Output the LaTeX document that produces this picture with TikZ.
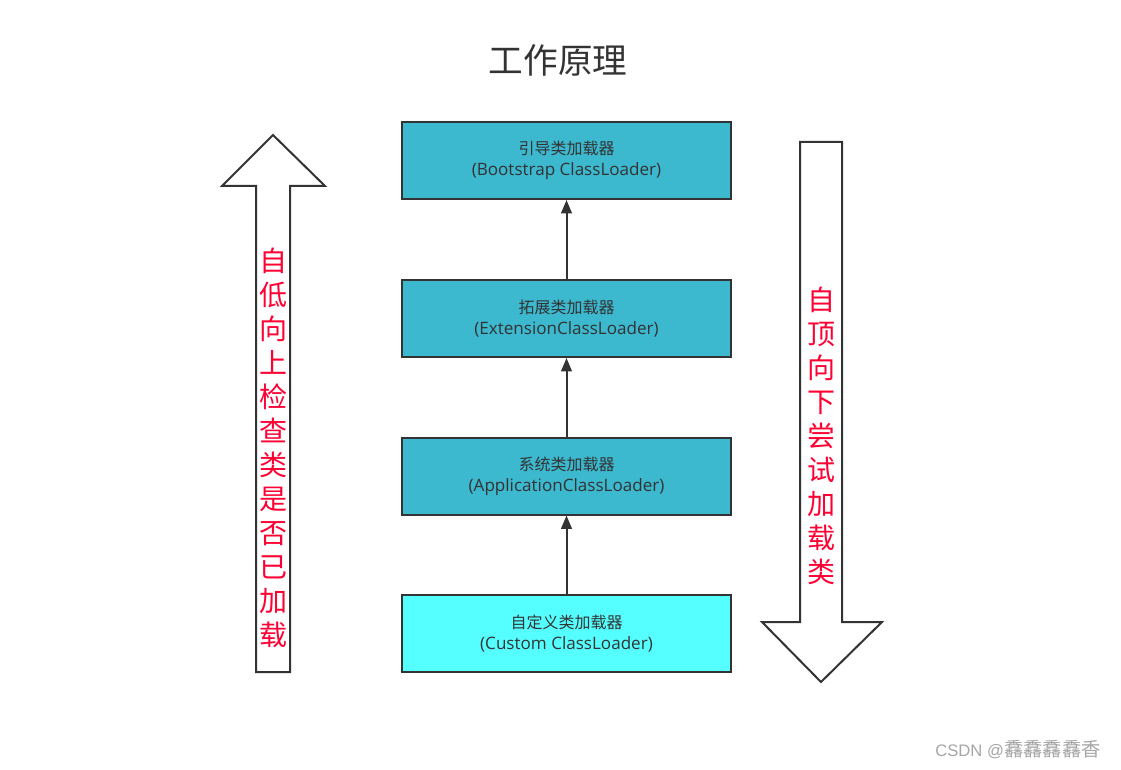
\documentclass[tikz,border=0pt]{standalone}
\usepackage{fontspec}
\setmainfont{Open Sans}
\newfontfamily\cjk{Noto Sans CJK SC}
\newfontfamily\marklatin{Liberation Sans}
\usetikzlibrary{arrows.meta}
\definecolor{loaderblue}{HTML}{3CB8CF}
\definecolor{customcyan}{HTML}{55FFFF}
\definecolor{linegray}{HTML}{333333}
\definecolor{hintred}{HTML}{FF0033}
\newcommand{\loadertext}[2]{{\cjk #1}\\{\fontsize{12.8}{15.75}\selectfont #2}}
\begin{document}
\begin{tikzpicture}[x=0.75pt,y=-0.75pt,
    loader/.style={draw=linegray,line width=1.5pt,fill=loaderblue,minimum width=246.75pt,minimum height=57.75pt,inner sep=0pt,text=linegray,font=\fontsize{12}{15.75}\selectfont,align=center},
    parent/.style={draw=linegray,line width=1.5pt,-{Triangle[length=10pt,width=8pt]}},
    bigarrow/.style={draw=linegray,line width=1.5pt,fill=white,line join=miter},
    hint/.style={text=hintred,font=\cjk\fontsize{21}{25.5}\selectfont,align=center}]
        \useasboundingbox (0,0) rectangle (1121,770);
        \node [font=\cjk\fontsize{26}{30}\selectfont,text=linegray] (title) at (558,60) {工作原理};
        % loaders
        \node [loader] (boot) at (566.5,160.5) {\loadertext{引导类加载器}{(Bootstrap ClassLoader)}};
        \node [loader] (ext) at (566.5,318.5) {\loadertext{拓展类加载器}{(ExtensionClassLoader)}};
        \node [loader] (app) at (566.5,476) {\loadertext{系统类加载器}{(ApplicationClassLoader)}};
        \node [loader,fill=customcyan] (custom) at (566.5,633.5) {\loadertext{自定义类加载器}{(Custom ClassLoader)}};
        \draw [parent] (ext) -- (boot);
        \draw [parent] (app) -- (ext);
        \draw [parent] (custom) -- (app);
        % big arrows
        \draw [bigarrow] (256,672) -- (256,186) -- (222,186) -- (273,135) -- (325,186) -- (290,186) -- (290,672) -- cycle;
        \draw [bigarrow] (800,142) -- (842,142) -- (842,622) -- (882,622) -- (821,682) -- (762,622) -- (800,622) -- cycle;
        \node [hint] (up) at (273,448) {自\\低\\向\\上\\检\\查\\类\\是\\否\\已\\加\\载};
        \node [hint] (down) at (821,436) {自\\顶\\向\\下\\尝\\试\\加\\载\\类};
        \node [text=gray!70] (mark) at (1018,750) {{\marklatin\fontsize{12.5}{14}\selectfont CSDN @}{\cjk\fontsize{14.5}{16}\selectfont 馫馫馫馫香}};
\end{tikzpicture}
\end{document}
